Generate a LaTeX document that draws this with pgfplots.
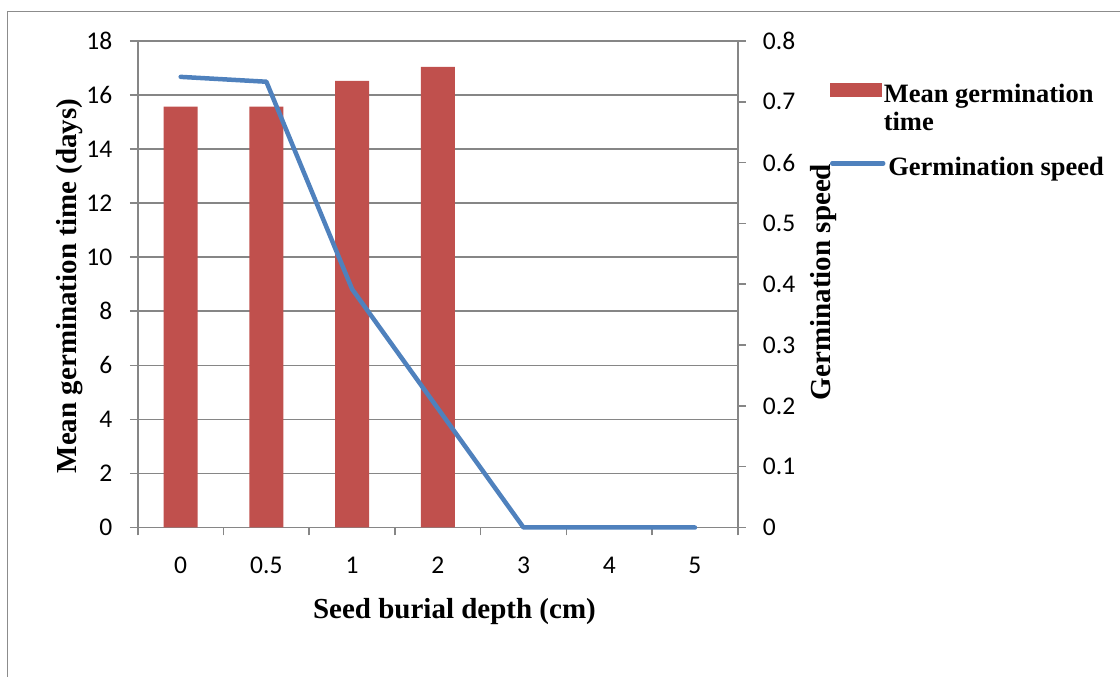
\documentclass[border=0pt]{standalone}
\usepackage{pgfplots}
\pgfplotsset{compat=1.18}
\usepackage{fontspec}
\setmainfont{Liberation Serif}
\newfontfamily\calibri{Carlito}
\definecolor{barred}{HTML}{C0504D}
\definecolor{lineblue}{HTML}{4F81BD}
\definecolor{axgray}{HTML}{868686}
\definecolor{framegray}{HTML}{8C8C8C}
\newcommand{\legtext}[1]{\raisebox{0pt}[10pt][10pt]{#1}}
\begin{document}
\begin{tikzpicture}
\useasboundingbox (0,0) rectangle (1120pt,677pt);
\draw[framegray, line width=1.5pt] (7.7pt,-1pt) -- (7.7pt,665.3pt) -- (1121pt,665.3pt);
\pgfplotsset{
  myaxis/.style={
    at={(137.8pt,149.5pt)}, anchor=south west,
    scale only axis, width=600pt, height=486.5pt,
    xmin=-0.5, xmax=6.5,
    tick align=outside,
    major tick length=8pt, minor tick length=8pt,
    axis line style={draw=axgray, line width=1.6pt, -},
    tick style={draw=axgray, line width=1.6pt},
    tick label style={font=\calibri\fontsize{25.5}{30}\selectfont, inner sep=0pt},
    /pgf/number format/assume math mode=true,
    label style={font=\bfseries\fontsize{29}{34}\selectfont, inner sep=0pt},
    legend cell align=left,
    legend style={draw=none, fill=none, anchor=west,
      inner sep=0pt, outer sep=0pt, column sep=0.8pt,
      nodes={inner sep=0pt, outer sep=0pt},
      font=\bfseries\fontsize{26.5}{28.4}\selectfont},
  }
}
\begin{axis}[myaxis,
  ymin=0, ymax=18,
  axis x line*=bottom, axis y line*=left,
  ybar, bar width=34pt,
  xtick={-0.5,0.5,1.5,2.5,3.5,4.5,5.5,6.5},
  x tick label as interval,
  xticklabels={0,0.5,1,2,3,4,5},
  ytick={0,2,4,6,8,10,12,14,16,18},
  ymajorgrids, grid style={draw=axgray, line width=1.6pt},
  xticklabel style={anchor=north, yshift=-21.5pt},
  yticklabel style={anchor=east, xshift=-17.3pt},
  xlabel={Seed burial depth (cm)},
  ylabel={Mean germination time (days)},
  xlabel style={at={(axis description cs:0.5278,-0.1866)}, anchor=base},
  ylabel style={at={(axis description cs:-0.103,0.4964)}, anchor=base},
  legend style={at={(1.1503,0.8822)}},
]
\addplot[fill=barred, draw=none,
  legend image code/.code={\fill[barred] (0pt,1.6pt) rectangle (52pt,15pt); \path (-2pt,-15pt) (53pt,15pt);}]
  coordinates {(0,15.57) (1,15.57) (2,16.52) (3,17.04)};
\addlegendentry{\legtext{\vtop{\baselineskip=28.4pt\hbox{Mean germination}\hbox{time}}}}
\end{axis}
\begin{axis}[myaxis,
  ymin=0, ymax=0.8,
  clip=false,
  axis x line=none, axis y line*=right,
  ytick={0,0.1,0.2,0.3,0.4,0.5,0.6,0.7,0.8},
  yticklabels={0,0.1,0.2,0.3,0.4,0.5,0.6,0.7,0.8},
  yticklabel style={anchor=west, xshift=17pt},
  ylabel={Germination speed},
  ylabel style={at={(axis description cs:1.1553,0.5046)}, anchor=base},
  legend style={at={(1.1503,0.7313)}},
]
\addplot[lineblue, line width=4.5pt, line cap=round, line join=round, mark=none,
  legend image code/.code={\draw[lineblue, line width=4.5pt, line cap=round] (0pt,8.4pt) -- (51pt,8.4pt); \path (-2pt,-10.7pt) (53pt,10.7pt);}]
  coordinates {(0,0.741) (1,0.733) (2,0.392) (3,0.196) (4,0) (5,0) (6,0)};
\addlegendentry{\legtext{Germination speed}}
\end{axis}
\end{tikzpicture}
\end{document}
